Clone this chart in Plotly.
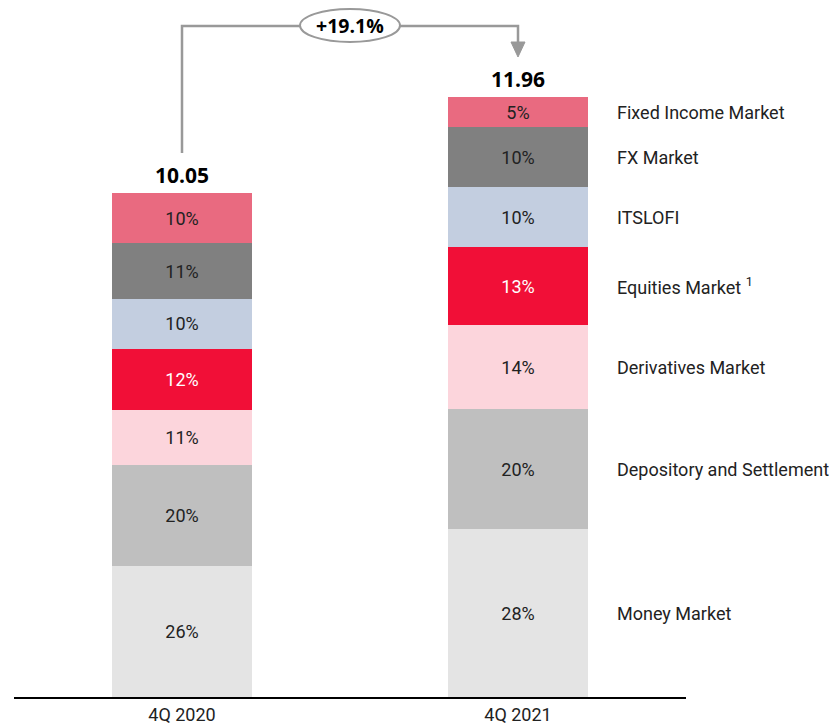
import plotly.graph_objects as go

periods = ["4Q 2020", "4Q 2021"]
totals = [10.05, 11.96]
growth_label = "+19.1%"

segments = ["Money Market", "Depository and Settlement", "Derivatives Market",
            "Equities Market", "ITSLOFI", "FX Market", "Fixed Income Market"]
legend_labels = ["Money Market", "Depository and Settlement", "Derivatives Market",
                 "Equities Market <sup>1</sup>", "ITSLOFI", "FX Market", "Fixed Income Market"]
share_2020 = [26, 20, 11, 12, 10, 11, 10]
share_2021 = [28, 20, 14, 13, 10, 10, 5]

colors = ["#E4E4E4", "#BFBFBF", "#FCD5DC", "#F10F37", "#C3CEE0", "#808080", "#E96A80"]
text_colors = ["#222222", "#222222", "#222222", "#FFFFFF", "#222222", "#222222", "#222222"]

FONT = "Roboto"

def values(shares, total):
    s = sum(shares)
    return [total * p / s for p in shares]

v20 = values(share_2020, totals[0])
v21 = values(share_2021, totals[1])

fig = go.Figure()
for i, seg in enumerate(segments):
    fig.add_trace(go.Bar(
        x=[0, 1], y=[v20[i], v21[i]], name=seg,
        marker=dict(color=colors[i], line=dict(width=0)),
        text=[f"{share_2020[i]}%", f"{share_2021[i]}%"],
        textposition="inside", insidetextanchor="middle",
        textfont=dict(family=FONT, size=18, color=text_colors[i]),
        hoverinfo="skip", showlegend=False,
    ))

# pixel geometry helpers (page has an 8px body margin)
PLOT_H = 689
Y_MAX = 13.736
px_per_unit = PLOT_H / Y_MAX
px_per_cat = 336.0

def ydata(screen_y):
    return (697 - screen_y) / px_per_unit

annotations = []
for xi, t in enumerate(totals):
    annotations.append(dict(x=xi, y=t, xref="x", yref="y", text=f"<b>{t:.2f}</b>",
                            showarrow=False, yanchor="bottom", yshift=2,
                            font=dict(family="Open Sans", size=21, color="#000")))
cum = 0
for i, lab in enumerate(legend_labels):
    c = cum + v21[i] / 2
    cum += v21[i]
    annotations.append(dict(x=1.29, y=c, xref="x", yref="y", text=lab, showarrow=False,
                            xanchor="left", yanchor="middle",
                            font=dict(family=FONT, size=18, color="#222")))

y_top = ydata(26)
y_start = ydata(153)
y_arrow_base = ydata(42)
y_arrow_tip = ydata(57)
hw = 7 / px_per_cat
shapes = [
    dict(type="path", xref="x", yref="y",
         path=f"M 0 {y_start} L 0 {y_top} L 1 {y_top} L 1 {y_arrow_base}",
         line=dict(color="#999999", width=2.5)),
    dict(type="path", xref="x", yref="y",
         path=f"M {1-hw} {y_arrow_base} L {1+hw} {y_arrow_base} L 1 {y_arrow_tip} Z",
         fillcolor="#999999", line=dict(color="#999999", width=1)),
    dict(type="circle", xref="x", yref="y",
         x0=0.5 - 50 / px_per_cat, x1=0.5 + 50 / px_per_cat,
         y0=ydata(42), y1=ydata(9),
         fillcolor="white", line=dict(color="#999999", width=2)),
]
annotations.append(dict(x=0.5, y=ydata(25), xref="x", yref="y", text=f"<b>{growth_label}</b>",
                        showarrow=False, font=dict(family="Open Sans", size=19.5, color="#000")))

fig.update_layout(
    barmode="stack", bargap=0.585,
    width=829, height=715,
    margin=dict(l=6, r=151, t=0, b=26),
    plot_bgcolor="white", paper_bgcolor="white",
    xaxis=dict(range=[-0.5, 1.5], tickvals=[0, 1], ticktext=periods,
               showline=True, linecolor="black", linewidth=2, showgrid=False,
               zeroline=False, ticks="", automargin=False,
               tickfont=dict(family=FONT, size=18, color="#222")),
    yaxis=dict(range=[0, Y_MAX], visible=False),
    shapes=shapes, annotations=annotations,
)

fig.write_html("out.html")
